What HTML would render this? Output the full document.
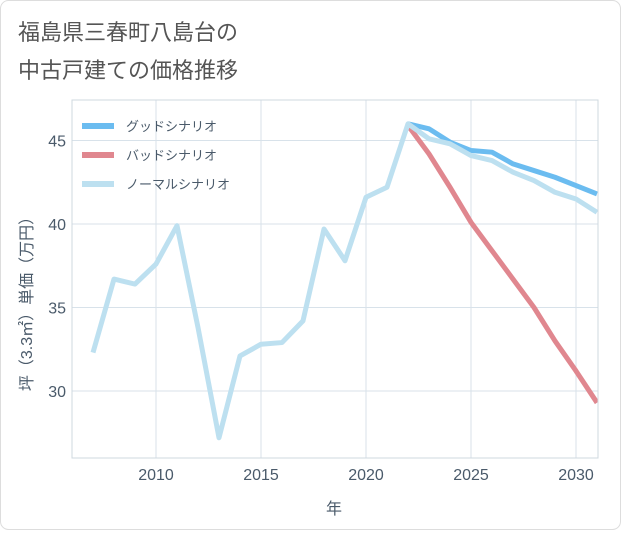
<!DOCTYPE html>
<html><head><meta charset="utf-8"><style>
body{margin:0;background:#fff;}
#wrap{width:621px;height:530px;position:relative;font-family:"Liberation Sans","Noto Sans CJK JP",sans-serif;}
</style></head><body>
<div id="wrap">
<svg id="chart" width="621" height="530" xmlns="http://www.w3.org/2000/svg">
<rect x="0.5" y="0.5" width="620" height="529" rx="8" fill="#fff" stroke="#ddd"/>
<text x="18" y="40" font-size="22" fill="#555" font-family="Liberation Sans,Noto Sans CJK JP,sans-serif">福島県三春町八島台の</text>
<text x="18" y="78" font-size="22" fill="#555" font-family="Liberation Sans,Noto Sans CJK JP,sans-serif">中古戸建ての価格推移</text>
<g id="grid"></g><g id="series"></g><g id="axes"></g><g id="legend"></g>
<text x="334" y="514" font-size="16" fill="#4a5a6a" text-anchor="middle" font-family="Liberation Sans,Noto Sans CJK JP,sans-serif">年</text>
<text transform="translate(32,300) rotate(-90)" font-size="16" fill="#4a5a6a" text-anchor="middle" font-family="Liberation Sans,Noto Sans CJK JP,sans-serif">坪（3.3㎡）単価（万円）</text>
</svg>
</div>
<script>
const years=[2007,2008,2009,2010,2011,2012,2013,2014,2015,2016,2017,2018,2019,2020,2021,2022,2023,2024,2025,2026,2027,2028,2029,2030,2031];
const normalValues=[32.3,36.7,36.4,37.6,39.9,33.8,27.2,32.1,32.8,32.9,34.2,39.7,37.8,41.6,42.2,46.0,45.1,44.8,44.1,43.8,43.1,42.6,41.9,41.5,40.7];
const forecastYears=[2022,2023,2024,2025,2026,2027,2028,2029,2030,2031];
const goodValues=[46.0,45.7,44.9,44.4,44.3,43.6,43.2,42.8,42.3,41.8];
const badValues=[45.9,44.2,42.2,40.1,38.4,36.7,35.0,33.0,31.2,29.3];
const xTicks=[2010,2015,2020,2025,2030];
const yTicks=[30,35,40,45];
const legendLabels=["グッドシナリオ","バッドシナリオ","ノーマルシナリオ"];
const legendColors=["#6bbcf0","#e0878f","#bde0f0"];

const L=72,R=598,T=100,B=458;
const X=y=>156+(y-2010)*21;
const Y=v=>224-(v-40)*16.7;
const NS="http://www.w3.org/2000/svg";
function mk(tag,attrs,parent){const e=document.createElementNS(NS,tag);for(const k in attrs)e.setAttribute(k,attrs[k]);parent.appendChild(e);return e;}
const grid=document.getElementById('grid'),series=document.getElementById('series'),axes=document.getElementById('axes'),legend=document.getElementById('legend');
xTicks.forEach(t=>{
 const l=mk('line',{x1:X(t),x2:X(t),y1:T,y2:B,stroke:'#d8e2ea','stroke-width':1},grid);
 
 
 const tx=mk('text',{x:X(t),y:B+22,'font-size':16,fill:'#4a5a6a','text-anchor':'middle'},axes);
 tx.textContent=t;
 
 
});
yTicks.forEach(t=>{
 const l=mk('line',{x1:L,x2:R,y1:Y(t),y2:Y(t),stroke:'#d8e2ea','stroke-width':1},grid);
 
 
 const tx=mk('text',{x:L-6,y:Y(t)+6,'font-size':16,fill:'#4a5a6a','text-anchor':'end'},axes);
 tx.textContent=t;
 
 
});
const frame=mk('rect',{x:L,y:T,width:R-L,height:B-T,fill:'none',stroke:'#cfd8df'},axes);


const cp=mk('clipPath',{id:'clip'},series);mk('rect',{x:L,y:T,width:R-L,height:B-T},cp);
function line(xs,vs,color,name){
 const p=mk('polyline',{points:xs.map((x,i)=>X(x)+','+Y(vs[i])).join(' '),fill:'none',stroke:color,'stroke-width':5,'stroke-linejoin':'round','clip-path':'url(#clip)'},series);
 
 
}
line(forecastYears,badValues,legendColors[1],'bad-scenario-line');
line(forecastYears,goodValues,legendColors[0],'good-scenario-line');
line(years,normalValues,legendColors[2],'normal-scenario-line');
legendLabels.forEach((lab,i)=>{
 const y=126+i*29;
 const s=mk('line',{x1:82,x2:114,y1:y,y2:y,stroke:legendColors[i],'stroke-width':6},legend);
 
 
 const t=mk('text',{x:126,y:y+5,'font-size':13,fill:'#4a5a6a'},legend);
 t.textContent=lab;
 
 
});
</script>
</body></html>
